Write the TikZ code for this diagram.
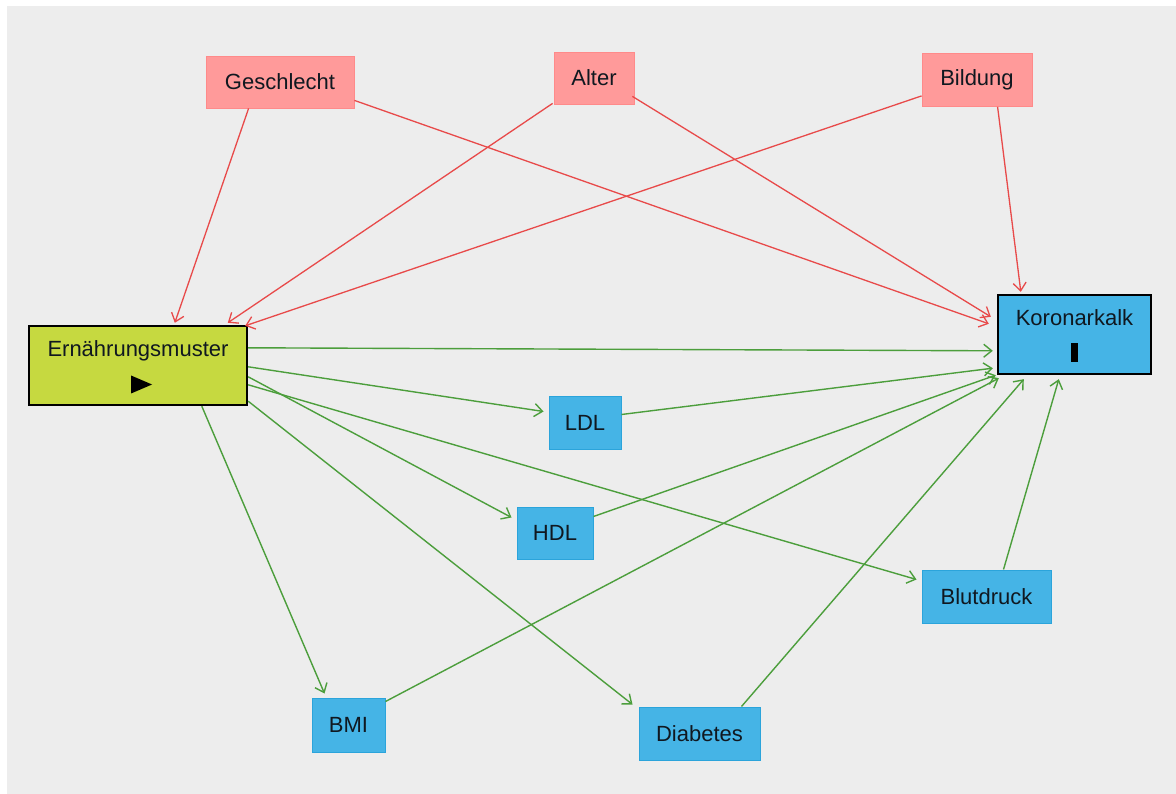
\documentclass[tikz,border=0pt]{standalone}
\usepackage{fontspec}
\setmainfont{Liberation Sans}
\usetikzlibrary{arrows.meta}
\definecolor{bg}{HTML}{EDEDED}
\definecolor{redfill}{HTML}{FF9A9A}
\definecolor{redborder}{HTML}{FF8A8A}
\definecolor{bluefill}{HTML}{45B4E6}
\definecolor{blueborder}{HTML}{2BA4DB}
\definecolor{yfill}{HTML}{C6D940}
\definecolor{redline}{HTML}{E84A4A}
\definecolor{greenline}{HTML}{4C9E3C}
\definecolor{txt}{HTML}{101820}
\begin{document}
\begin{tikzpicture}[x=1pt,y=-1pt,
  base/.style={inner sep=0pt, font=\fontsize{22}{26}\selectfont, text=txt, align=center},
  redbox/.style={base, fill=redfill, draw=redborder, line width=0.8pt},
  bluebox/.style={base, fill=bluefill, draw=blueborder, line width=1pt},
  mainbox/.style={base, fill=yfill, draw=black, line width=2.4pt},
  outbox/.style={base, fill=bluefill, draw=black, line width=2.4pt},
  tip/.style={-{Straight Barb[length=8pt,width=13pt]}},
  redarr/.style={tip, draw=redline, line width=1.3pt},
  greenarr/.style={tip, draw=greenline, line width=1.4pt}]
\useasboundingbox (0,0) rectangle (1176,794);
\fill[white] (0,0) rectangle (1176,794);
\fill[bg] (7,6) rectangle (1176,794);

% nodes
\node[redbox, minimum width=148pt, minimum height=52pt] (gesch) at (280,82) {Geschlecht};
\node[redbox, minimum width=80pt, minimum height=52pt] (alter) at (594,78) {Alter};
\node[redbox, minimum width=110pt, minimum height=53pt] (bild) at (977,80) {Bildung};
\node[mainbox, minimum width=218pt, minimum height=79pt] (ern) at (138,365.5) {Ernährungsmuster\\[7pt]\rule{0pt}{18pt}};
\node[outbox, minimum width=153pt, minimum height=79pt] (kor) at (1074.5,334.5) {Koronarkalk\\[8pt]\rule{0pt}{19pt}};
\node[bluebox, minimum width=72pt, minimum height=52pt] (ldl) at (585,423) {LDL};
\node[bluebox, minimum width=76pt, minimum height=52pt] (hdl) at (555,533) {HDL};
\node[bluebox, minimum width=129pt, minimum height=53pt] (blut) at (986.5,596.5) {Blutdruck};
\node[bluebox, minimum width=73pt, minimum height=54pt] (bmi) at (348.5,725) {BMI};
\node[bluebox, minimum width=121pt, minimum height=53pt] (diab) at (699.5,733.5) {Diabetes};

% symbols inside boxes
\fill[black] ([shift={(-7,10)}]ern.center) -- ([shift={(-7,28)}]ern.center) -- ([shift={(14,19)}]ern.center) -- cycle;
\fill[black] ([shift={(-3.5,8.5)}]kor.center) rectangle ([shift={(3.5,27.5)}]kor.center);

% red arrows
\draw[redarr] ([shift={(43,0)}]gesch.south west) -- ([shift={(147,-2)}]ern.north west);
\draw[redarr] ([shift={(0,-8)}]gesch.south east) -- ([shift={(-8,30)}]kor.north west);
\draw[redarr] ([shift={(-1,-1)}]alter.south west) -- ([shift={(200,-2)}]ern.north west);
\draw[redarr] ([shift={(-2,-8)}]alter.south east) -- ([shift={(-6,23)}]kor.north west);
\draw[redarr] ([shift={(0,-11)}]bild.south west) -- ([shift={(-3,1)}]ern.north east);
\draw[redarr] ([shift={(76,0)}]bild.south west) -- ([shift={(24,-2)}]kor.north west);

% green arrows
\draw[greenarr] ([shift={(0,23)}]ern.north east) -- ([shift={(-4,57)}]kor.north west);
\draw[greenarr] ([shift={(0,42)}]ern.north east) -- ([shift={(-5,15)}]ldl.north west);
\draw[greenarr] ([shift={(0,52)}]ern.north east) -- ([shift={(-5,11)}]hdl.north west);
\draw[greenarr] ([shift={(0,60)}]ern.north east) -- ([shift={(-5,10)}]blut.north west);
\draw[greenarr] ([shift={(174,0)}]ern.south west) -- ([shift={(13,-4)}]bmi.north west);
\draw[greenarr] ([shift={(0,-5)}]ern.south east) -- ([shift={(-6,-2)}]diab.north west);
\draw[greenarr] ([shift={(0,18)}]ldl.north east) -- ([shift={(-4,-7)}]kor.south west);
\draw[greenarr] ([shift={(0,10)}]hdl.north east) -- ([shift={(-1,0)}]kor.south west);
\draw[greenarr] ([shift={(0,4)}]bmi.north east) -- ([shift={(2,3)}]kor.south west);
\draw[greenarr] ([shift={(103,0)}]diab.north west) -- ([shift={(27,4)}]kor.south west);
\draw[greenarr] ([shift={(82,0)}]blut.north west) -- ([shift={(62,4)}]kor.south west);
\end{tikzpicture}
\end{document}
